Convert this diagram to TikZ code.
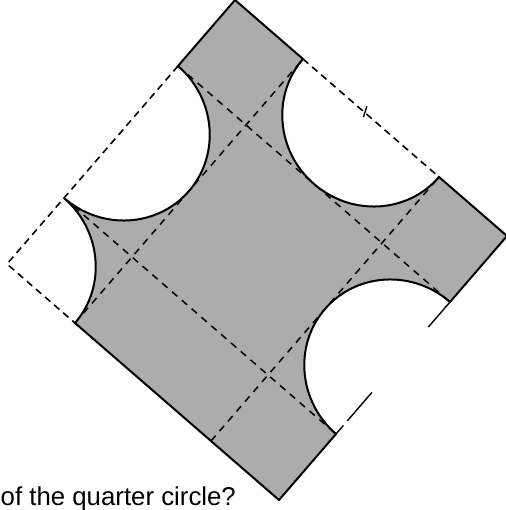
\documentclass[tikz,border=0pt]{standalone}
\usepackage{fontspec}
\setmainfont{Liberation Sans}
\definecolor{shade}{RGB}{172,172,172}
\tikzset{
  outline/.style={line width=2pt, line join=miter},
  dashedge/.style={line width=1.6pt, dash pattern=on 7pt off 5pt},
  griddash/.style={line width=1.5pt, dash pattern=on 7pt off 6pt},
  sketchy/.style={line width=1.4pt},
}
\begin{document}
\begin{tikzpicture}[x=1pt,y=1pt]
\useasboundingbox (0,0) rectangle (505,510);
\begin{scope}[shift={(7pt,246pt)}, x={(57pt,66pt)}, y={(68pt,-59pt)}]
  % shaded region
  \filldraw[fill=shade, outline]
    (3,0) -- (4,0) -- (4,1)
    arc[start angle=-90, end angle=-270, radius=1]
    -- (4,4) -- (3,4)
    arc[start angle=0, end angle=-180, radius=1]
    -- (0,4) -- (0,1)
    arc[start angle=90, end angle=0, radius=1]
    arc[start angle=180, end angle=0, radius=1]
    -- cycle;
  % interior dashed grid
  \draw[griddash] (1,0) -- (1,4);
  \draw[griddash] (3,0) -- (3,4);
  \draw[griddash] (0,1) -- (4,1);
  \draw[griddash] (0,3) -- (4,3);
  % dashed square edges across the cut-outs
  \draw[dashedge] (3,0) -- (0,0) -- (0,1);
  \draw[dashedge] (4,1) -- (4,3);
  \draw[sketchy] (3.95,1.93) -- (4.07,1.88);
  % sketchy fragments of the lower right edge
  \draw[sketchy] (3,4) -- (2.62,4);
  \draw[sketchy] (1,4) -- (1.13,4);
  \draw[sketchy] (1.2,4) -- (1.63,4);
\end{scope}
\node[anchor=base west, inner sep=0, font=\fontsize{25.8}{30}\selectfont] (q) at (0.5,5) {of the quarter circle?};
\end{tikzpicture}
\end{document}
